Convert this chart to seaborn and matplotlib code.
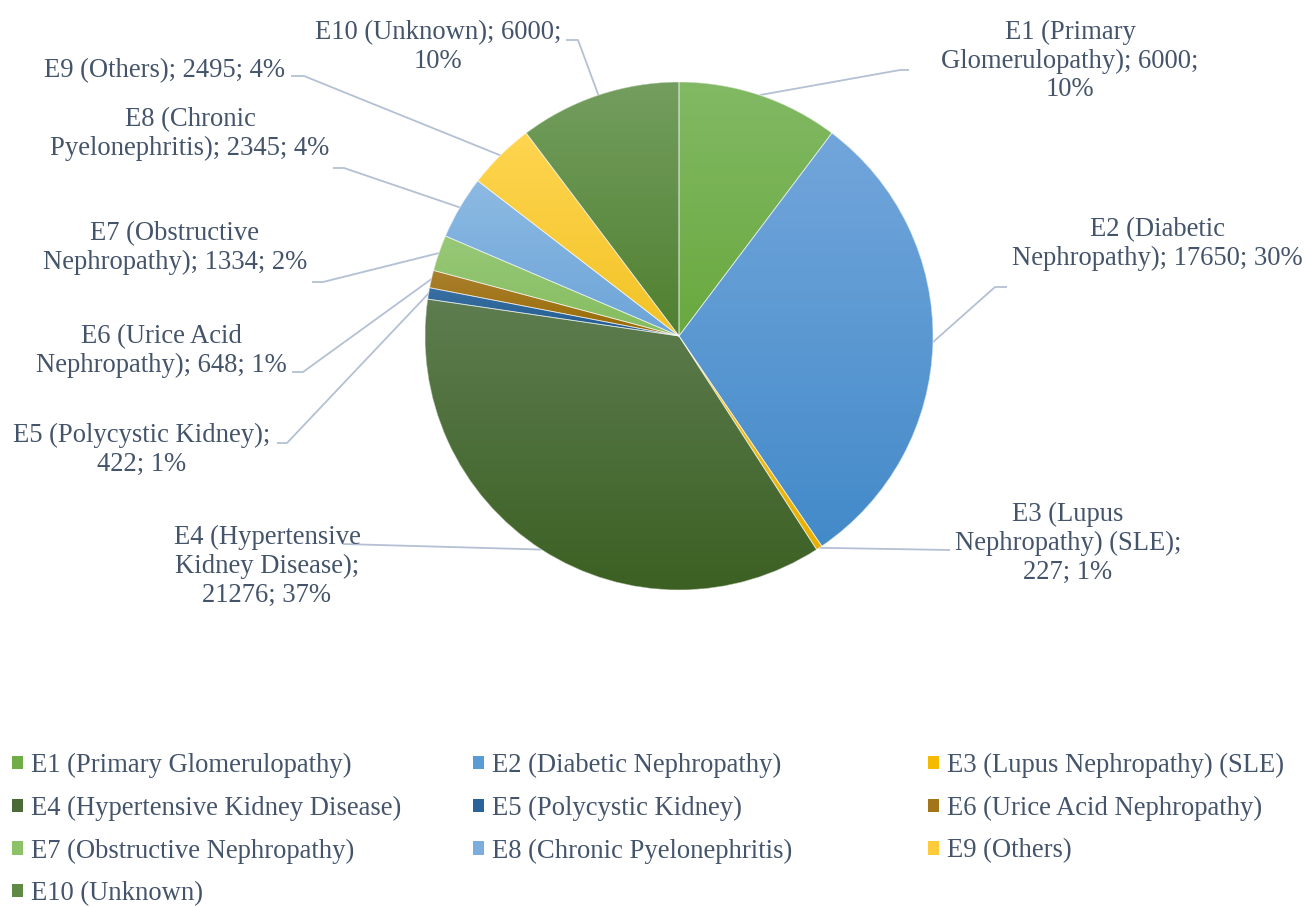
import numpy as np
import matplotlib
matplotlib.use("Agg")
import matplotlib.pyplot as plt
import seaborn as sns
from matplotlib.colors import LinearSegmentedColormap
from matplotlib.patches import Patch, Wedge

# ---------------- data ----------------
categories = [
    "E1 (Primary Glomerulopathy)",
    "E2 (Diabetic Nephropathy)",
    "E3 (Lupus Nephropathy) (SLE)",
    "E4 (Hypertensive Kidney Disease)",
    "E5 (Polycystic Kidney)",
    "E6 (Urice Acid Nephropathy)",
    "E7 (Obstructive Nephropathy)",
    "E8 (Chronic Pyelonephritis)",
    "E9 (Others)",
    "E10 (Unknown)",
]
values = [6000, 17650, 227, 21276, 422, 648, 1334, 2345, 2495, 6000]
pct_labels = ["10%", "30%", "1%", "37%", "1%", "1%", "2%", "4%", "4%", "10%"]

# ---------------- style ----------------
top_colors = ["#82B964", "#72A6DB", "#FFC820", "#5E7D50", "#3A70A4",
              "#AA8030", "#98C878", "#8DBAE3", "#FFD550", "#739E5F"]
bottom_colors = ["#69A93F", "#438AC9", "#E8AF00", "#3C6023", "#1F5A8E",
                 "#986A00", "#85BD5E", "#6CA4D8", "#F2C326", "#508030"]
mid_colors = ["#70AD47", "#5B9BD5", "#F5BA00", "#4A6B35", "#2A6299",
              "#A17518", "#8CC168", "#7BADDE", "#FFCB3A", "#5F8A45"]
text_color = "#44546A"
leader_color = "#B4C0D3"

sns.set_theme(style="white")
plt.rcParams["font.family"] = ["Liberation Serif", "DejaVu Serif"]
FS = 19.2

W, H = 1306, 907
fig = plt.figure(figsize=(W / 100, H / 100), dpi=100)
ax = fig.add_axes([0, 0, 1, 1])

def Y(py):
    return H - py

cx, cy, R = 679, Y(336), 254

wedges, _ = ax.pie(values, colors=mid_colors, startangle=90, counterclock=False,
                   center=(cx, cy), radius=R,
                   wedgeprops=dict(edgecolor="none", linewidth=0))

# gradient fill for each wedge
grad = np.linspace(0, 1, 256).reshape(-1, 1)
for w, tc, bc in zip(wedges, top_colors, bottom_colors):
    ext = w.get_path().get_extents()
    cmap = LinearSegmentedColormap.from_list("g", [tc, bc])
    im = ax.imshow(grad, cmap=cmap, extent=[ext.x0, ext.x1, ext.y0, ext.y1],
                   origin="upper", aspect="auto", zorder=2, interpolation="bilinear")
    im.set_clip_path(w)
# thin light separators
for w in wedges:
    ax.add_patch(Wedge(w.center, w.r, w.theta1, w.theta2,
                       facecolor="none", edgecolor="white",
                       linewidth=0.6, alpha=0.6, zorder=3))

# ---------------- data labels with leader lines ----------------
breaks = [["(Primary", "6000;"], ["(Diabetic"], ["(Lupus", "(SLE);"],
          ["(Hypertensive", "Disease);"], ["Kidney);"], ["Acid"],
          ["(Obstructive"], ["(Chronic"], [], ["6000;"]]
label_pos = [(1070, 61), (1157, 244), (1068, 543.5), (267, 566.5), (142, 450),
             (161, 351), (175, 248), (190, 134), (165, 71), (438, 47)]
leader_pts = [
    [(900, 70), (909, 70)],
    [(995, 287), (1007, 287)],
    [(950, 550)],
    [(343, 544)],
    [(287, 443), (277, 443)],
    [(303, 372), (292, 372)],
    [(323, 282), (312, 282)],
    [(344, 168), (333, 168)],
    [(304, 76), (291, 76)],
    [(578, 40), (566, 40)],
]

for i, w in enumerate(wedges):
    txt = f"{categories[i]}; {values[i]}; {pct_labels[i]}"
    for b in breaks[i]:
        txt = txt.replace(b + " ", b + "\n", 1)
    mid = np.deg2rad((w.theta1 + w.theta2) / 2)
    px, py = cx + R * np.cos(mid), cy + R * np.sin(mid)
    xs = [px] + [p[0] for p in leader_pts[i]]
    ys = [py] + [Y(p[1]) for p in leader_pts[i]]
    ax.plot(xs, ys, color=leader_color, lw=1.3, zorder=1, solid_capstyle="butt")
    lx, ly = label_pos[i]
    ax.text(lx, Y(ly), txt, ha="center", va="center", multialignment="center",
            fontsize=FS, color=text_color, linespacing=1.2, zorder=5)

# ---------------- legend (3 columns, row-major order) ----------------
col_x = [12, 473, 928]
legend_top = 753
for c in range(3):
    idx = list(range(c, len(categories), 3))
    handles = [Patch(facecolor=mid_colors[k], edgecolor="none") for k in idx]
    labels = [categories[k] for k in idx]
    leg = ax.legend(handles, labels, loc="upper left",
                    bbox_to_anchor=(col_x[c], Y(legend_top)),
                    bbox_transform=ax.transData, frameon=False,
                    fontsize=FS, handlelength=0.4, handleheight=0.4,
                    handletextpad=0.3, labelspacing=0.66, borderpad=0,
                    borderaxespad=0, labelcolor=text_color)
    if c < 2:
        ax.add_artist(leg)

ax.set_xlim(0, W)
ax.set_ylim(0, H)
ax.set_aspect("equal")
ax.axis("off")
fig.savefig("out.png", dpi=100, facecolor="white")
